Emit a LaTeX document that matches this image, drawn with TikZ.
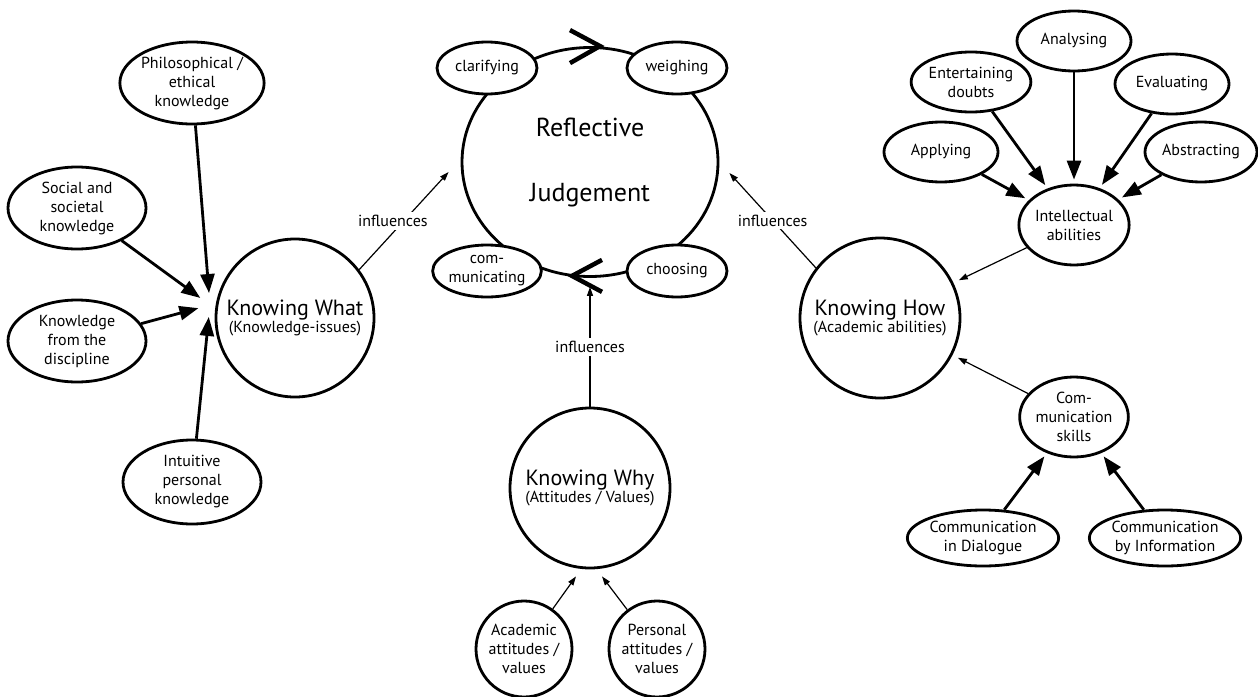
\documentclass[tikz,border=0pt]{standalone}
\usepackage{fontspec}
\setmainfont{PT Sans}
\usetikzlibrary{shapes.geometric,arrows.meta}

\begin{document}
\begin{tikzpicture}[x=1pt,y=-1pt,
    leaf/.style={ellipse,draw,line width=2.8pt,fill=white,inner sep=0pt,align=center,font=\fontsize{16}{19}\selectfont},
    hub/.style={circle,draw,line width=2.8pt,inner sep=0pt,align=center,minimum size=160pt},
    feed/.style={-{Triangle[length=19pt,width=14pt]},line width=2.8pt},
    infl/.style={-{Triangle[length=9pt,width=6pt]},line width=1.2pt},
    lbl/.style={fill=white,inner sep=3pt,font=\fontsize{16}{19}\selectfont},
    chev/.style={line width=4.5pt,line join=miter}]
  \useasboundingbox (0,0) rectangle (1258,696);

  % knowing what
  \node[hub,minimum size=158pt] (kw) at (295,318) {{\fontsize{22}{26}\selectfont Knowing What}\\{\fontsize{16}{19}\selectfont (Knowledge-issues)}};
  \node[leaf,minimum width=138pt,minimum height=82pt] (phil) at (192,83) {Philosophical /\\ethical\\knowledge};
  \node[leaf,minimum width=138pt,minimum height=82pt] (social) at (77,208) {Social and\\societal\\knowledge};
  \node[leaf,minimum width=138pt,minimum height=82pt] (disc) at (77,341) {Knowledge\\from the\\discipline};
  \node[leaf,minimum width=138pt,minimum height=84pt] (intu) at (192,482) {Intuitive\\personal\\knowledge};
  \coordinate (kwin) at (210,305);
  \foreach \s in {phil,social,disc,intu}
    \draw[feed,shorten >=12pt] (\s) -- (kwin);

  % reflective judgement
  \node[ellipse,draw,line width=2.8pt,inner sep=0pt,minimum width=256pt,minimum height=229pt,align=center,font=\fontsize{26}{65}\selectfont] (rj) at (590,162) {Reflective\\Judgement};
  \node[leaf,minimum width=100pt,minimum height=52pt] (clar) at (487,68) {clarifying};
  \node[leaf,minimum width=100pt,minimum height=52pt] (weigh) at (677,68) {weighing};
  \node[leaf,minimum width=100pt,minimum height=52pt] (comm) at (487,271) {com-\\municating};
  \node[leaf,minimum width=100pt,minimum height=52pt] (choos) at (677,271) {choosing};
  \draw[chev] ([shift={(-20pt,16pt)}]rj.north) -- ([xshift=10pt]rj.north) -- ([shift={(-20pt,-17pt)}]rj.north);
  \draw[chev] ([shift={(12pt,18pt)}]rj.south) -- ([shift={(-18pt,2pt)}]rj.south) -- ([shift={(12pt,-14pt)}]rj.south);

  % knowing why
  \node[hub] (why) at (590,488) {{\fontsize{22}{26}\selectfont Knowing Why}\\{\fontsize{16}{19}\selectfont (Attitudes / Values)}};
  \node[leaf,circle,minimum size=96pt] (acad) at (524,649) {Academic\\attitudes /\\values};
  \node[leaf,circle,minimum size=96pt] (pers) at (657,649) {Personal\\attitudes /\\values};
  \draw[infl] (acad) -- ([xshift=-14pt,yshift=-7pt]why.south);
  \draw[infl] (pers) -- ([xshift=12pt,yshift=-7pt]why.south);

  % knowing how
  \node[hub] (kh) at (880,318) {{\fontsize{22}{26}\selectfont Knowing How}\\{\fontsize{16}{19}\selectfont (Academic abilities)}};
  \node[leaf,minimum width=102pt,minimum height=80pt] (intel) at (1074,225) {Intellectual\\abilities};
  \node[leaf,minimum width=114pt,minimum height=60pt] (anal) at (1074,41) {Analysing};
  \node[leaf,minimum width=114pt,minimum height=60pt] (ent) at (971,82) {Entertaining\\doubts};
  \node[leaf,minimum width=114pt,minimum height=60pt] (eval) at (1172,84) {Evaluating};
  \node[leaf,minimum width=114pt,minimum height=60pt] (appl) at (941,152) {Applying};
  \node[leaf,minimum width=112pt,minimum height=60pt] (abst) at (1201,152) {Abstracting};
  \foreach \s in {anal,ent,eval,appl,abst}
    \draw[feed,shorten >=4pt] (\s) -- (intel);
  \node[leaf,minimum width=102pt,minimum height=80pt] (cs) at (1074,417) {Com-\\munication\\skills};
  \node[leaf,minimum width=148pt,minimum height=56pt] (dial) at (983,538) {Communication\\in Dialogue};
  \node[leaf,minimum width=148pt,minimum height=56pt] (info) at (1165,538) {Communication\\by Information};
  \draw[feed,shorten >=4pt] (dial) -- (cs);
  \draw[feed,shorten >=4pt] (info) -- (cs);
  \draw[infl,shorten >=6pt] (intel) -- (kh);
  \draw[infl,shorten >=6pt] (cs) -- (kh);

  % influences
  \draw[infl] (kw.37) -- node[lbl,xshift=-11pt] {influences} ([xshift=-12pt,yshift=-10pt]rj.west);
  \draw[infl] (kh.142) -- node[lbl] {influences} ([xshift=10pt,yshift=-11pt]rj.east);
  \draw[infl] (why) -- node[lbl] {influences} ([yshift=-9pt]rj.south);
\end{tikzpicture}
\end{document}
